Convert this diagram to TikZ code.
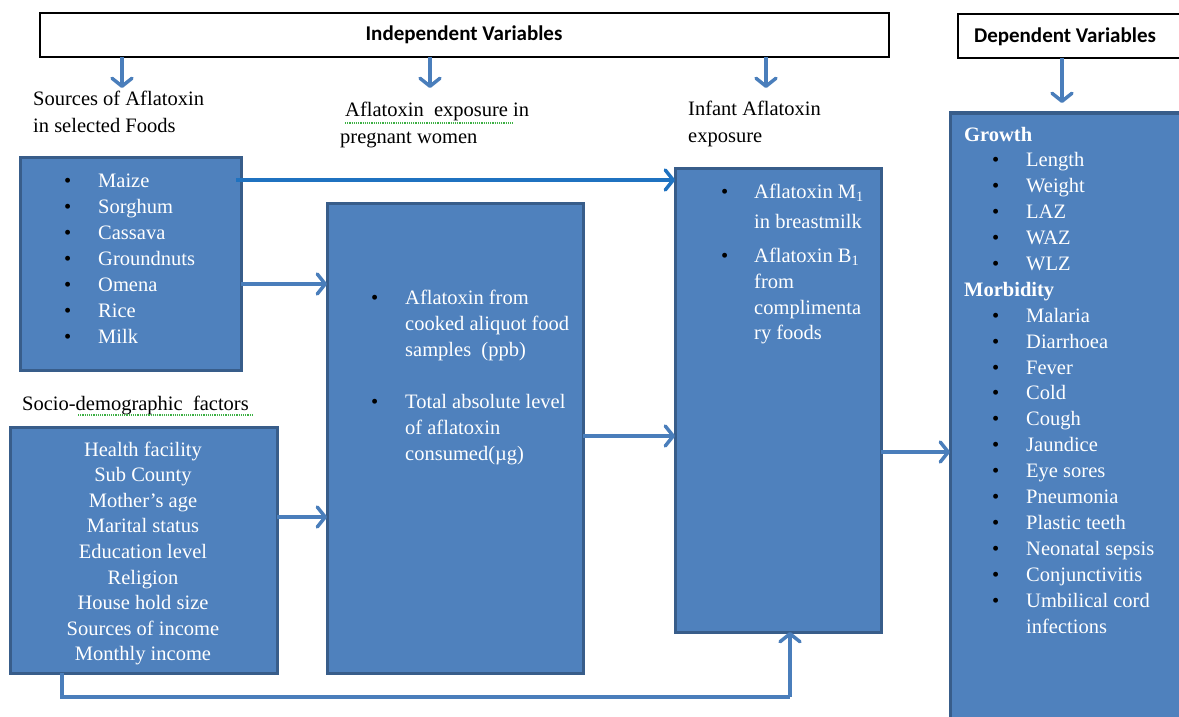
\documentclass[tikz,border=0pt]{standalone}
\usepackage{fontspec}
\setmainfont{Liberation Serif}
\newfontfamily\hdfont{Carlito}
\usetikzlibrary{arrows.meta}
\definecolor{boxfill}{HTML}{4F81BD}
\definecolor{boxline}{HTML}{385D8A}
\definecolor{arrowc}{HTML}{4A7EBB}
\definecolor{arrowm}{HTML}{1F72C0}
\definecolor{squig}{HTML}{3CB043}
\newcommand\blt{\textcolor{black}{\textbullet}}
\begin{document}
\begin{tikzpicture}[x=1pt,y=-1pt,
  box/.style={draw=boxline, line width=3pt, fill=boxfill, anchor=north west, inner sep=0pt, outer sep=0pt},
  hdr/.style={draw=black, line width=2.5pt, fill=white, anchor=north west, inner sep=0pt, outer sep=0pt},
  hdtxt/.style={font=\hdfont\bfseries\fontsize{21}{25}\selectfont, inner sep=0pt, text=black},
  lbl/.style={font=\fontsize{20.5}{26.5}\selectfont, inner sep=0pt, anchor=base west, text=black},
  lst/.style={font=\fontsize{20.5}{26}\selectfont, inner sep=0pt, anchor=base west, text=white},
  arr/.style={draw=arrowc, line width=3.5pt, -{Straight Barb[length=8pt,width=20pt,round]}},
  arrm/.style={draw=arrowm, line width=3.5pt, -{Straight Barb[length=8pt,width=20pt,round]}},
  squiggle/.style={draw=squig, line width=1.2pt, densely dotted}
]
\useasboundingbox (0,0) rectangle (1179,717);
\clip (0,0) rectangle (1179,717);

% header boxes
\node[hdr, minimum width=849pt, minimum height=44pt] (indep) at (40,13) {};
\node[hdtxt] (indeptxt) at (464,35) {Independent Variables};
\node[hdr, minimum width=240pt, minimum height=44pt] (dephdr) at (958,14) {};
\node[hdtxt] (deptxt) at (1065,37) {Dependent Variables};

% main boxes
\node[box, minimum width=221pt, minimum height=213pt] (foods) at (20,157) {};
\node[box, minimum width=267pt, minimum height=246pt] (socio) at (10,427) {};
\node[box, minimum width=256pt, minimum height=470pt] (mid) at (327,203) {};
\node[box, minimum width=206pt, minimum height=464pt] (infant) at (675,168) {};
\node[box, minimum width=250pt, minimum height=620pt] (dep) at (950,113) {};

% labels
\node[lbl] (lblfoods) at (33,106) {\begin{tabular}[t]{@{}l@{}}Sources of Aflatoxin\\in selected Foods\end{tabular}};
\node[lbl] (lblpreg) at (340,117) {\begin{tabular}[t]{@{}l@{}}\hspace{5pt}Aflatoxin\ \ exposure in\\pregnant women\end{tabular}};
\node[lbl] (lblinf) at (688,116) {\begin{tabular}[t]{@{}l@{}}Infant Aflatoxin\\exposure\end{tabular}};
\node[lbl] (lblsocio) at (22,410) {Socio-demographic\ \ factors};
\draw[squiggle] (345,123) -- (514,123);
\draw[squiggle] (78,415) -- (254,415);

% lists
\node[lst] (foodlist) at (64,187) {\begin{tabular}[t]{@{}p{34pt}@{}l@{}}
\blt & Maize\\ \blt & Sorghum\\ \blt & Cassava\\ \blt & Groundnuts\\ \blt & Omena\\ \blt & Rice\\ \blt & Milk
\end{tabular}};
\node[lst, anchor=base] (sociolist) at (143,456) {\fontsize{20.5}{25.6}\selectfont\begin{tabular}[t]{@{}c@{}}
Health facility\\ Sub County\\ Mother’s age\\ Marital status\\ Education level\\ Religion\\ House hold size\\ Sources of income\\ Monthly income
\end{tabular}};
\node[lst] (midlist) at (371,304) {\begin{tabular}[t]{@{}p{34pt}@{}l@{}}
\blt & Aflatoxin from\\ & cooked aliquot food\\ & samples\ \ (ppb)\\ & \\
\blt & Total absolute level\\ & of aflatoxin\\ & consumed(µg)
\end{tabular}};
\node[lst] (inflist) at (721,198) {\begin{tabular}[t]{@{}p{33pt}@{}l@{}}
\blt & Aflatoxin M\textsubscript{1}\\[4pt] & in breastmilk\\[8pt]
\blt & Aflatoxin B\textsubscript{1}\\ & from\\ & complimenta\\ & ry foods
\end{tabular}};
\node[lst] (deplist) at (964,141) {\fontsize{20.5}{25.9}\selectfont\begin{tabular}[t]{@{}p{28pt}@{}p{34pt}@{}l@{}}
\multicolumn{3}{@{}l}{\textbf{Growth}}\\
& \blt & Length\\ & \blt & Weight\\ & \blt & LAZ\\ & \blt & WAZ\\ & \blt & WLZ\\
\multicolumn{3}{@{}l}{\textbf{Morbidity}}\\
& \blt & Malaria\\ & \blt & Diarrhoea\\ & \blt & Fever\\ & \blt & Cold\\ & \blt & Cough\\
& \blt & Jaundice\\ & \blt & Eye sores\\ & \blt & Pneumonia\\ & \blt & Plastic teeth\\
& \blt & Neonatal sepsis\\ & \blt & Conjunctivitis\\ & \blt & Umbilical cord\\ & & infections
\end{tabular}};

% header arrows
\coordinate (a1) at (122,88);
\coordinate (a2) at (430,88);
\coordinate (a3) at (766,88);
\coordinate (a4) at (1062,103);
\draw[arr] (indep.south -| a1) -- (a1);
\draw[arr] (indep.south -| a2) -- (a2);
\draw[arr] (indep.south -| a3) -- (a3);
\draw[arr] (dephdr.south -| a4) -- (a4);

% connectors
\coordinate (ym) at (0,180);
\coordinate (yf) at (0,284);
\coordinate (ys) at (0,517);
\coordinate (yi) at (0,436);
\coordinate (yd) at (0,452);
\draw[arrm] ([xshift=-5pt]foods.east |- ym) -- (infant.west |- ym);
\draw[arr] (foods.east |- yf) -- (mid.west |- yf);
\draw[arr] (socio.east |- ys) -- (mid.west |- ys);
\draw[arr] (mid.east |- yi) -- (infant.west |- yi);
\draw[arr] (infant.east |- yd) -- (dep.west |- yd);
\coordinate (b1) at (62,697);
\coordinate (b2) at (790,697);
\draw[arr, -] (socio.south -| b1) -- (b1) -- (b2);
\draw[arr] (b2) -- (infant.south -| b2);
\end{tikzpicture}
\end{document}
